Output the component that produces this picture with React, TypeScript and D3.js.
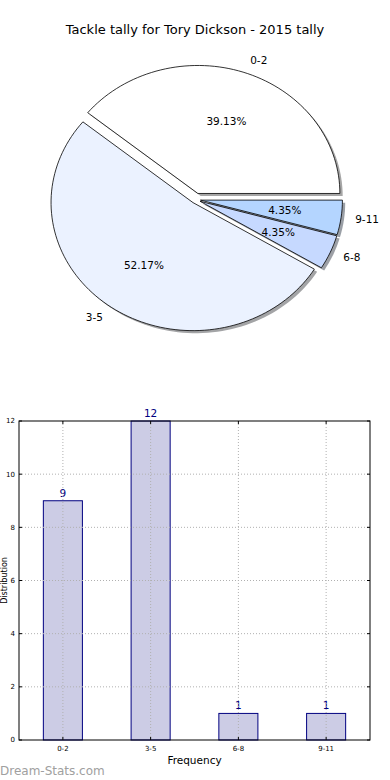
import * as d3 from "d3";

const W = 390;
const H = 780;
const FONT = "DejaVu Sans, sans-serif";

// data
const ranges = ["0-2", "3-5", "6-8", "9-11"];
const tallies = [9, 12, 1, 1];
const sliceColors = ["#ffffff", "#ebf2ff", "#c6d9ff", "#b4d5ff"];
const explodes = [0.05, 0.03, 0.035, 0.035];
const yTicks = [0, 2, 4, 6, 8, 10, 12];

// pie geometry (matplotlib-ish ellipse)
const PIE = { cx: 195.5, cy: 199.5, rx: 142, ry: 128 };
// bar axes box
const BOX = { left: 19, right: 370, top: 421, bottom: 740 };

function wedgePath(a0: number, a1: number, ox: number, oy: number) {
  // angles in degrees, counterclockwise from +x
  const steps = Math.max(8, Math.ceil((a1 - a0) / 2));
  const pts: [number, number][] = [[ox, oy]];
  for (let i = 0; i <= steps; i++) {
    const a = ((a0 + ((a1 - a0) * i) / steps) * Math.PI) / 180;
    pts.push([ox + PIE.rx * Math.cos(a), oy - PIE.ry * Math.sin(a)]);
  }
  return d3.line()(pts) + "Z";
}

function PieChart() {
  const total = d3.sum(tallies);
  const arcs = d3
    .pie<number>()
    .sort(null)
    .startAngle(0)
    .endAngle(2 * Math.PI)(tallies);

  const slices = arcs.map((a, i) => {
    const a0 = (a.startAngle * 180) / Math.PI;
    const a1 = (a.endAngle * 180) / Math.PI;
    const mid = (((a0 + a1) / 2) * Math.PI) / 180;
    const ox = PIE.cx + explodes[i] * PIE.rx * Math.cos(mid);
    const oy = PIE.cy - explodes[i] * PIE.ry * Math.sin(mid);
    return { a0, a1, mid, ox, oy, i };
  });

  const shadowColor = (c: string) => {
    const rgb = d3.rgb(c);
    return d3.rgb(rgb.r * 0.3, rgb.g * 0.3, rgb.b * 0.3).toString();
  };

  return (
    <g>
      <text
        x={W / 2}
        y={34}
        textAnchor="middle"
        fontSize={13}
        fontFamily={FONT}
        fill="#000"
      >
        Tackle tally for Tory Dickson - 2015 tally
      </text>
      {/* shadows sit below every wedge */}
      {slices.map((s) => (
        <path
          key={"sh" + s.i}
          d={wedgePath(s.a0, s.a1, s.ox + 2.8, s.oy + 2.6)}
          fill={shadowColor(sliceColors[s.i])}
          opacity={0.5}
        />
      ))}
      {slices.map((s) => (
        <path
          key={"w" + s.i}
          d={wedgePath(s.a0, s.a1, s.ox, s.oy)}
          fill={sliceColors[s.i]}
          stroke="#000"
          strokeWidth={0.8}
          strokeLinejoin="round"
        />
      ))}
      {slices.map((s) => {
        const lx = s.ox + 1.1 * PIE.rx * Math.cos(s.mid);
        const ly = s.oy - 1.1 * PIE.ry * Math.sin(s.mid);
        const px = s.ox + 0.6 * PIE.rx * Math.cos(s.mid);
        const py = s.oy - 0.6 * PIE.ry * Math.sin(s.mid);
        return (
          <g key={"t" + s.i} fontFamily={FONT} fontSize={10.5} fill="#000">
            <text
              x={lx}
              y={ly}
              dy="0.35em"
              textAnchor={lx > PIE.cx ? "start" : "end"}
            >
              {ranges[s.i]}
            </text>
            <text x={px} y={py} dy="0.35em" textAnchor="middle">
              {((tallies[s.i] / total) * 100).toFixed(2)}%
            </text>
          </g>
        );
      })}
    </g>
  );
}

function BarChart() {
  const x = d3
    .scaleBand()
    .domain(ranges)
    .range([BOX.left, BOX.right])
    .paddingInner(0.555)
    .paddingOuter(0.2775);
  const y = d3.scaleLinear().domain([0, 12]).range([BOX.bottom, BOX.top]);
  const grid = "#b0b0b0";

  return (
    <g fontFamily={FONT}>
      {ranges.map((r, i) => {
        const bx = x(r)!;
        return (
          <g key={r}>
            <rect
              x={bx}
              y={y(tallies[i])}
              width={x.bandwidth()}
              height={y(0) - y(tallies[i])}
              fill="#ccccE5"
              stroke="#000080"
              strokeWidth={1}
            />
            <text
              x={bx + x.bandwidth() / 2}
              y={y(tallies[i]) - 4}
              textAnchor="middle"
              fontSize={10.5}
              fill="#000080"
            >
              {tallies[i]}
            </text>
          </g>
        );
      })}
      {/* grid on top of bars */}
      {yTicks.slice(1, -1).map((t) => (
        <line
          key={"gy" + t}
          x1={BOX.left}
          x2={BOX.right}
          y1={y(t)}
          y2={y(t)}
          stroke={grid}
          strokeDasharray="1,2"
        />
      ))}
      {ranges.map((r) => {
        const cx = x(r)! + x.bandwidth() / 2;
        return (
          <g key={"gx" + r}>
            <line
              x1={cx}
              x2={cx}
              y1={BOX.top}
              y2={BOX.bottom}
              stroke={grid}
              strokeDasharray="1,2"
            />
            <line x1={cx} x2={cx} y1={BOX.bottom} y2={BOX.bottom - 3} stroke="#000" />
            <line x1={cx} x2={cx} y1={BOX.top} y2={BOX.top + 3} stroke="#000" />
            <text
              x={cx}
              y={BOX.bottom + 11}
              textAnchor="middle"
              fontSize={7}
              fill="#000"
            >
              {r}
            </text>
          </g>
        );
      })}
      {yTicks.map((t) => (
        <g key={"ty" + t}>
          <line x1={BOX.left} x2={BOX.left + 3} y1={y(t)} y2={y(t)} stroke="#000" />
          <line x1={BOX.right} x2={BOX.right - 3} y1={y(t)} y2={y(t)} stroke="#000" />
          <text
            x={BOX.left - 4}
            y={y(t)}
            dy="0.35em"
            textAnchor="end"
            fontSize={7}
            fill="#000"
          >
            {t}
          </text>
        </g>
      ))}
      <rect
        x={BOX.left}
        y={BOX.top}
        width={BOX.right - BOX.left}
        height={BOX.bottom - BOX.top}
        fill="none"
        stroke="#000"
        strokeWidth={1}
      />
      <text
        x={(BOX.left + BOX.right) / 2}
        y={BOX.bottom + 24}
        textAnchor="middle"
        fontSize={10.5}
        fill="#000"
      >
        Frequency
      </text>
      <text
        transform={`translate(7,${(BOX.top + BOX.bottom) / 2}) rotate(-90)`}
        textAnchor="middle"
        fontSize={8}
        fill="#000"
      >
        Distribution
      </text>
      <text x={0} y={775} fontSize={12} fill="#a0a0a0">
        Dream-Stats.com
      </text>
    </g>
  );
}

export default function App() {
  return (
    <svg
      width={W}
      height={H}
      style={{ position: "absolute", left: 0, top: 0, background: "#fff" }}
    >
      <rect width={W} height={H} fill="#fff" />
      <PieChart />
      <BarChart />
    </svg>
  );
}
